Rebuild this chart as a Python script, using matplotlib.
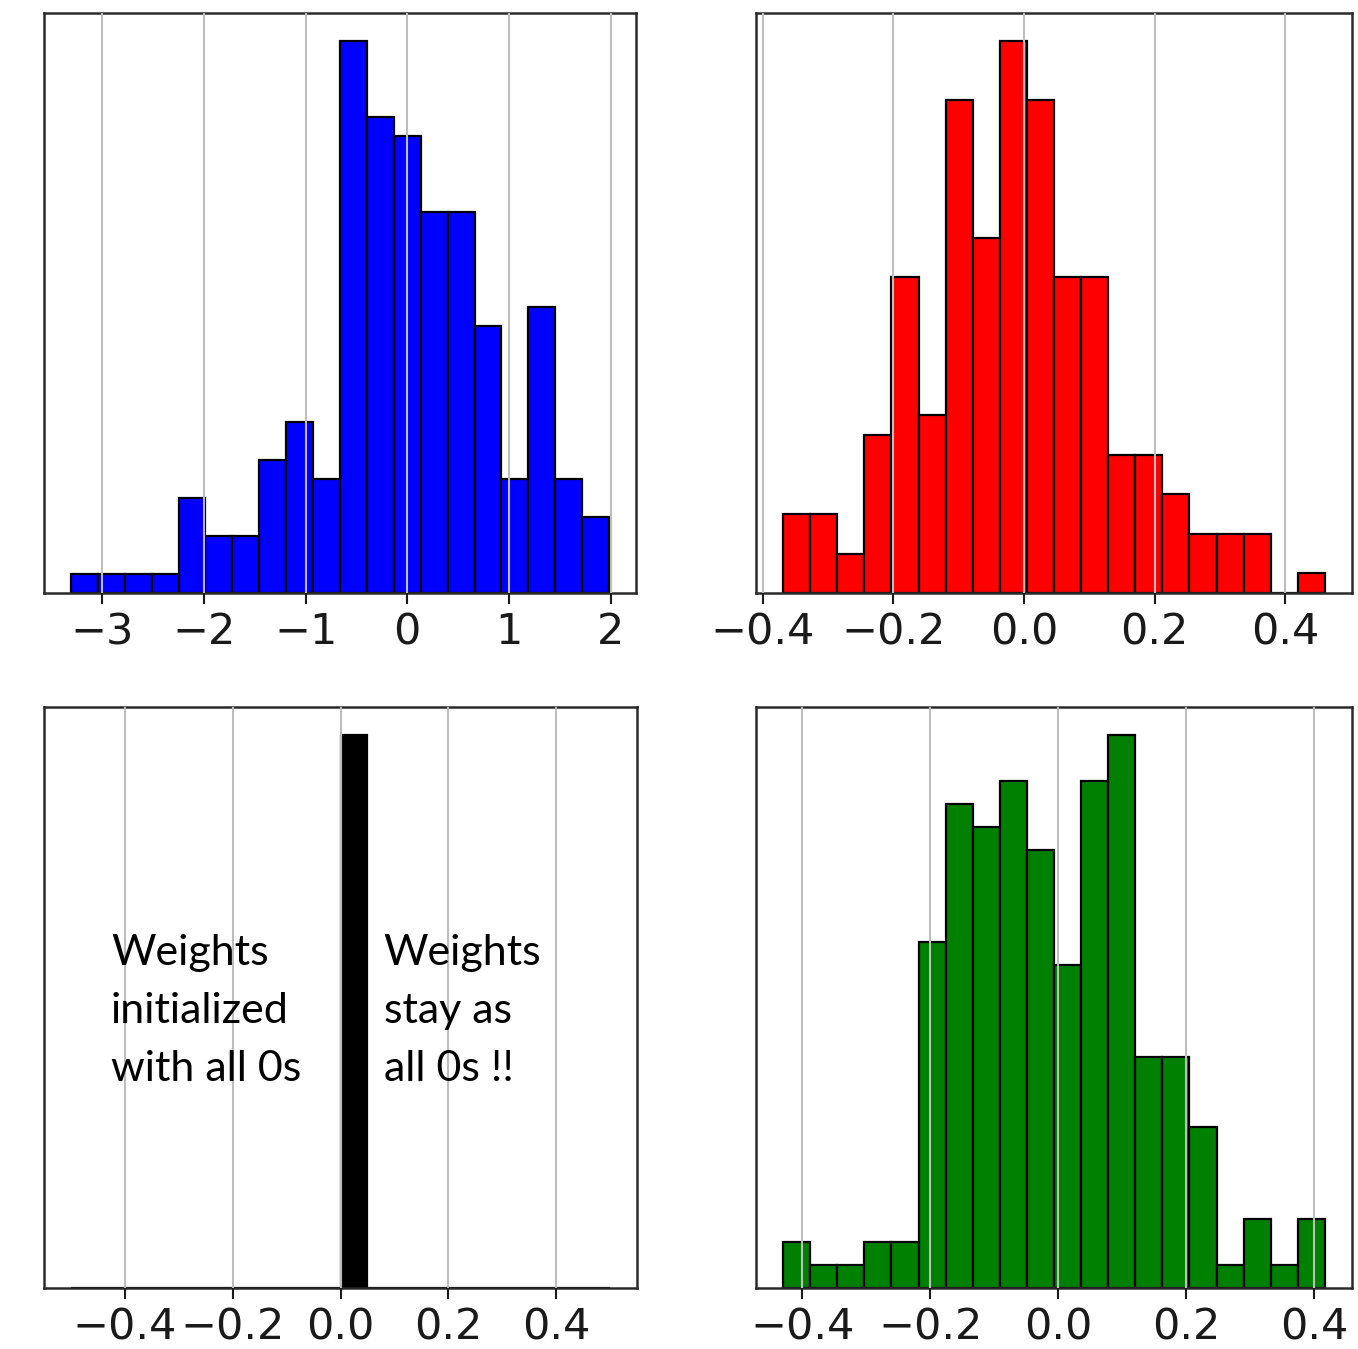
import numpy as np
import matplotlib.pyplot as plt

plt.rcParams['font.family'] = 'DejaVu Sans'

# histogram counts (20 bins each)
blue_counts = [1, 1, 1, 1, 5, 3, 3, 7, 9, 6, 29, 25, 24, 20, 20, 14, 6, 15, 6, 4]
blue_range = (-3.31, 1.985)

red_counts = [4, 4, 2, 8, 16, 9, 25, 18, 28, 25, 16, 16, 7, 7, 5, 3, 3, 3, 0, 1]
red_range = (-0.369, 0.461)

black_counts = [0, 0, 0, 0, 0, 0, 0, 0, 0, 0, 200, 0, 0, 0, 0, 0, 0, 0, 0, 0]
black_range = (-0.5, 0.5)

green_counts = [2, 1, 1, 2, 2, 15, 21, 20, 22, 19, 14, 22, 24, 10, 10, 7, 1, 3, 1, 3]
green_range = (-0.430, 0.4166)

text_left = "Weights\ninitialized\nwith all 0s"
text_right = "Weights\nstay as\nall 0s !!"

fig = plt.figure(figsize=(13.58, 13.49), dpi=100)

boxes = [
    [0.0324, 0.5604, 0.4359, 0.4300],
    [0.5567, 0.5604, 0.4389, 0.4300],
    [0.0324, 0.0452, 0.4367, 0.4307],
    [0.5567, 0.0452, 0.4389, 0.4307],
]
series = [
    (blue_counts, blue_range, 'blue'),
    (red_counts, red_range, 'red'),
    (black_counts, black_range, 'black'),
    (green_counts, green_range, 'green'),
]

axes = []
for box, (counts, rng, col) in zip(boxes, series):
    ax = fig.add_axes(box)
    edges = np.linspace(rng[0], rng[1], len(counts) + 1)
    ax.hist(edges[:-1], bins=edges, weights=counts, color=col,
            edgecolor='black', linewidth=1.6)
    ax.set_yticks([])
    ax.grid(axis='x', color='#bdbdbd', linewidth=1.5)
    ax.set_axisbelow(False)
    ax.tick_params(axis='x', labelsize=31, length=8, width=1.5, pad=5,
                   colors='#1a1a1a')
    for sp in ax.spines.values():
        sp.set_linewidth(1.8)
        sp.set_color('#2a2a2a')
    axes.append(ax)

axes[0].set_xticks([-3, -2, -1, 0, 1, 2])
for ax in axes[1:]:
    ax.set_xticks([-0.4, -0.2, 0.0, 0.2, 0.4])

ax = axes[2]
ax.text(0.113, 0.61, text_left, transform=ax.transAxes, fontsize=31,
        family='Lato', va='top', ha='left', linespacing=1.65)
ax.text(0.573, 0.61, text_right, transform=ax.transAxes, fontsize=31,
        family='Lato', va='top', ha='left', linespacing=1.65)

plt.savefig('out.png', dpi=100)
